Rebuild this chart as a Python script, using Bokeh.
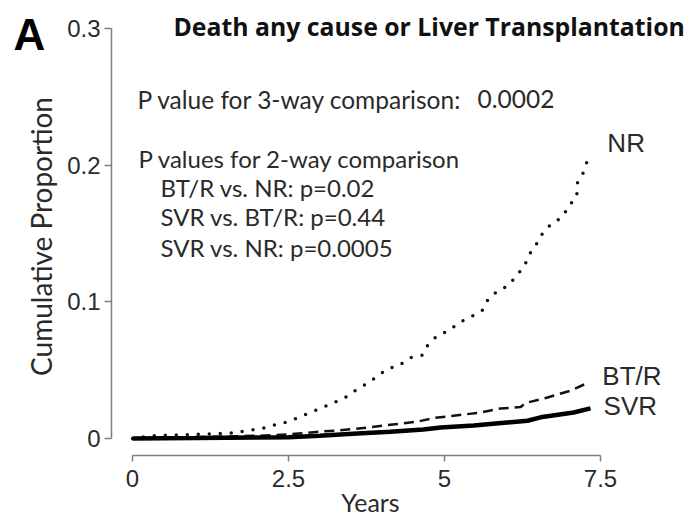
import math
from bokeh.plotting import figure
from bokeh.models import Range1d, FixedTicker
from bokeh.core.properties import value
from bokeh.embed import file_html
from bokeh.resources import INLINE

# ---- data ----
years_nr = [0, 0.3, 1.0, 1.6, 1.86, 2.08, 2.29, 2.5, 2.85, 3.22, 3.41, 3.57, 3.75, 3.91, 4.08, 4.26,
            4.45, 4.64, 4.74, 4.88, 5.07, 5.24, 5.42, 5.61, 5.70, 5.85, 6.03, 6.15, 6.28, 6.35,
            6.47, 6.57, 6.71, 6.89, 6.99, 7.12, 7.13, 7.23, 7.30]
cum_nr = [0, 0.002, 0.003, 0.004, 0.006, 0.0073, 0.010, 0.0124, 0.019, 0.026, 0.030, 0.035, 0.040,
          0.045, 0.051, 0.053, 0.059, 0.061, 0.069, 0.075, 0.079, 0.085, 0.089, 0.094, 0.102,
          0.108, 0.112, 0.119, 0.126, 0.134, 0.142, 0.150, 0.157, 0.162, 0.170, 0.177, 0.187,
          0.195, 0.205]

years_btr = [0, 1.0, 2.0, 2.5, 3.0, 3.33, 3.77, 4.13, 4.57, 4.83, 5.21, 5.58, 5.90, 6.22, 6.30,
             6.65, 7.02, 7.31]
cum_btr = [0, 0.001, 0.002, 0.003, 0.005, 0.006, 0.008, 0.010, 0.0124, 0.015, 0.017, 0.019,
           0.022, 0.023, 0.026, 0.030, 0.035, 0.041]

years_svr = [0, 1.0, 2.0, 2.5, 3.0, 3.33, 3.6, 4.13, 4.66, 4.94, 5.47, 6.0, 6.33, 6.54, 7.07, 7.34]
cum_svr = [0, 0.0003, 0.0007, 0.001, 0.002, 0.003, 0.0037, 0.005, 0.0066, 0.008, 0.0095, 0.0117,
           0.013, 0.0155, 0.019, 0.022]

x_ticks = [0, 2.5, 5, 7.5]
x_tick_labels = ["0", "2.5", "5", "7.5"]
y_ticks = [0, 0.1, 0.2, 0.3]
y_tick_labels = ["0", "0.1", "0.2", "0.3"]

series_names = ["NR", "BT/R", "SVR"]
title_text = "Death any cause or Liver Transplantation"
panel_letter = "A"
x_title = "Years"
y_title = "Cumulative Proportion"
pvalue_3way = ["P value for 3-way comparison:", "0.0002"]
pvalue_lines = [
    "P values for 2-way comparison",
    "BT/R vs. NR: p=0.02",
    "SVR vs. BT/R: p=0.44",
    "SVR vs. NR: p=0.0005",
]

# ---- figure: the frame fills the canvas, axes sit at fixed data locations ----
W, H = 694, 516
PX_X = 62.4      # pixels per year
PX_Y = 1366.7    # pixels per unit proportion
X0_PX, Y0_PX = 132, 438   # canvas position of (0, 0)

p = figure(width=W, height=H, output_backend="svg", toolbar_location=None,
           x_range=Range1d(-X0_PX / PX_X, (W - X0_PX) / PX_X),
           y_range=Range1d((Y0_PX - H) / PX_Y, Y0_PX / PX_Y),
           min_border_left=0, min_border_right=0, min_border_top=0, min_border_bottom=0)
p.outline_line_color = None
p.xgrid.visible = False
p.ygrid.visible = False
p.background_fill_color = "white"

AX_COL = "#7f7f7f"
TL_COL = "#2a2a2a"

xa = p.xaxis[0]
xa.fixed_location = (Y0_PX - 455) / PX_Y
xa.bounds = (0, 7.5)
xa.ticker = FixedTicker(ticks=x_ticks)
xa.major_label_overrides = dict(zip(x_ticks, x_tick_labels))
xa.axis_line_color = AX_COL
xa.axis_line_width = 1.5
xa.major_tick_line_color = AX_COL
xa.major_tick_line_width = 1.5
xa.major_tick_out = 6
xa.major_tick_in = 0
xa.minor_tick_line_color = None
xa.major_label_standoff = 8
xa.major_label_text_font = "Liberation Sans"
xa.major_label_text_font_size = "24px"
xa.major_label_text_color = TL_COL

ya = p.yaxis[0]
ya.fixed_location = (111 - X0_PX) / PX_X
ya.bounds = (0, 0.3)
ya.ticker = FixedTicker(ticks=y_ticks)
ya.major_label_overrides = dict(zip(y_ticks, y_tick_labels))
ya.axis_line_color = AX_COL
ya.axis_line_width = 1.5
ya.major_tick_line_color = AX_COL
ya.major_tick_line_width = 1.5
ya.major_tick_out = 7
ya.major_tick_in = 0
ya.minor_tick_line_color = None
ya.major_label_standoff = 4
ya.major_label_text_font = "Liberation Sans"
ya.major_label_text_font_size = "24px"
ya.major_label_text_color = TL_COL

# ---- curves ----
p.line(years_nr, cum_nr, line_color="#111111", line_width=3.5, line_dash="0 11", line_cap="round")
p.line(years_btr, cum_btr, line_color="#111111", line_width=2.5, line_dash="10 6")
p.line(years_svr, cum_svr, line_color="#000000", line_width=4.5)

# curve labels
p.text(x=[7.61, 7.53, 7.55], y=[0.216, 0.0454, 0.0241], text=series_names,
       text_font=value("Liberation Sans"), text_font_size="26px", text_color=TL_COL,
       text_align="left", text_baseline="middle")

# title and p-values
p.text(x=[0.657], y=[0.3015], text=[title_text], text_font=value("Open Sans"),
       text_font_style="bold", text_font_size="24.8px", text_color="#111111",
       text_align="left", text_baseline="middle")
p.text(x=[0.080, 5.529], y=[0.2484, 0.2484], text=pvalue_3way,
       text_font=value("Lato"), text_font_size="24.5px", text_color=TL_COL,
       text_align="left", text_baseline="middle")
p.text(x=[0.096, 0.449, 0.449, 0.449],
       y=[0.2052, 0.1840, 0.1621, 0.1401], text=pvalue_lines,
       text_font=value("Lato"), text_font_size="24px", text_color=TL_COL,
       text_align="left", text_baseline="middle")

# panel letter and axis titles
p.text(x=[-1.907], y=[0.2956], text=[panel_letter], text_font=value("Liberation Sans"),
       text_font_style="bold", text_font_size="44px", text_color="#000000",
       text_align="left", text_baseline="middle")
p.text(x=[3.814], y=[-0.0461], text=[x_title], text_font=value("Lato"),
       text_font_size="25px", text_color=TL_COL,
       text_align="center", text_baseline="middle")
p.text(x=[-1.474], y=[0.1478], text=[y_title], angle=math.pi / 2, text_font=value("Lato"),
       text_font_size="28px", text_color=TL_COL,
       text_align="center", text_baseline="middle")

open("out.html", "w").write(file_html(p, INLINE))
